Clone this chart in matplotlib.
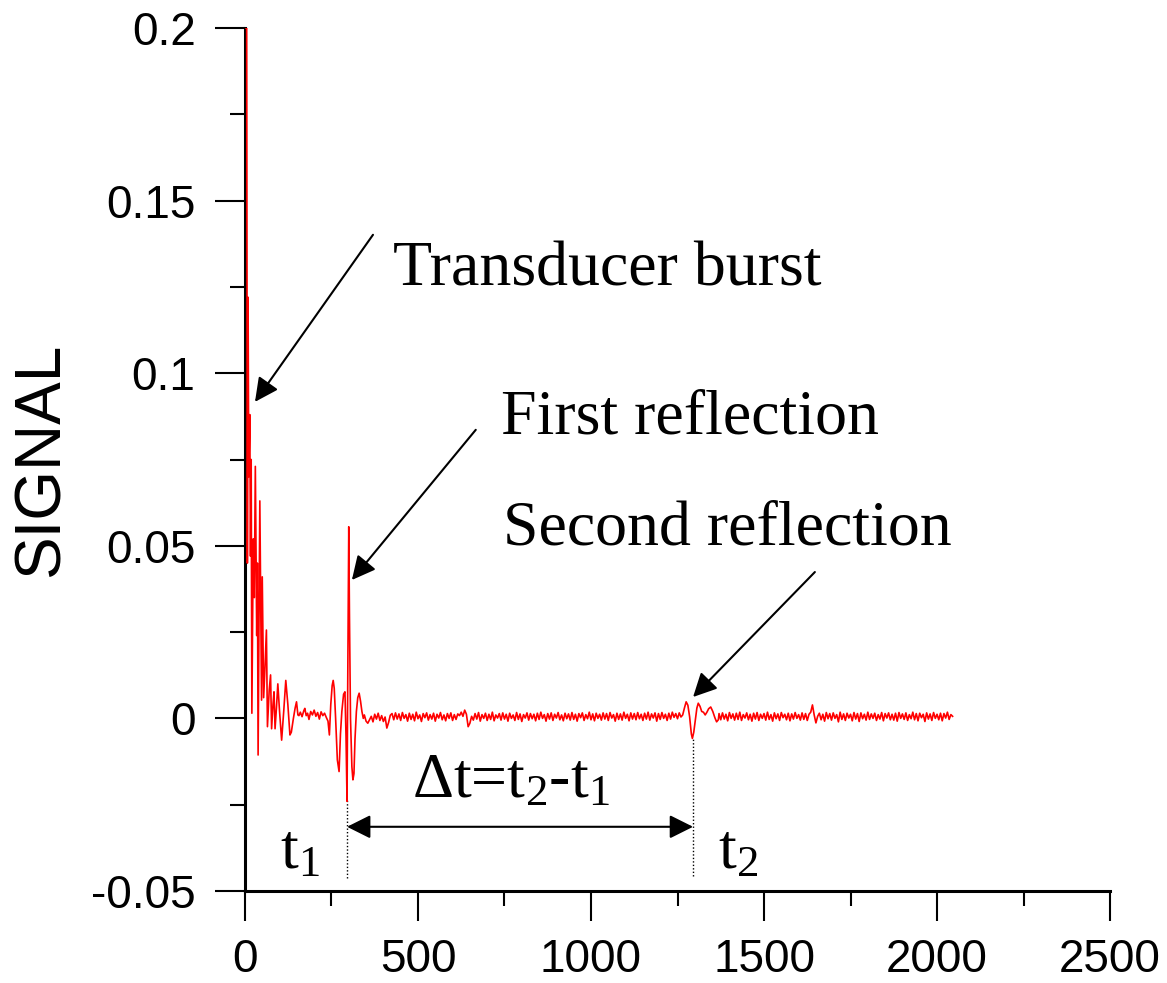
import numpy as np
import matplotlib
matplotlib.use("Agg")
import matplotlib.pyplot as plt
from matplotlib.ticker import MultipleLocator

## hand-read trace: burst + first reflection (sample, signal) ##
burst_t = [0, 3, 5, 7, 9, 11, 14, 16, 18, 20, 24, 27, 30, 34, 36, 38, 43, 48, 50, 54,
           58, 62, 65, 70, 74, 77, 81, 84, 87, 91, 95, 100, 106, 112, 118, 124, 130, 134,
           140, 145, 149, 153, 156, 160, 165, 170, 173, 177, 181, 185, 190, 195, 200, 205,
           210, 215, 220, 225, 230, 235, 240, 244, 248, 252, 255, 258, 262, 267, 272, 276,
           280, 285, 289, 292, 295, 297, 300, 302, 305, 309, 312, 315, 318, 322, 326, 330,
           334, 338, 342]
burst_v = [0.200, 0.205, 0.200, 0.045, 0.122, 0.070, 0.088, 0.047, 0.075, 0.0015, 0.052,
           0.035, 0.073, 0.024, 0.045, -0.0106, 0.063, 0.0053, 0.041, 0.006, 0.015, 0.0256,
           -0.0024, 0.008, 0.0126, -0.003, 0.004, 0.0077, -0.003, 0.003, 0.010, 0.002,
           -0.0063, 0.002, 0.011, 0.004, -0.0048, -0.004, 0.0, 0.003, 0.0048, 0.001, 0.0008,
           0.0018, 0.0005, 0.0022, 0.0029, 0.0008, 0.0015, -0.0003, 0.0020, 0.0010, 0.0024,
           0.0006, 0.0017, -0.0002, 0.0019, 0.0008, 0.0015, 0.0003, -0.0008, -0.0048, 0.004,
           0.0095, 0.011, 0.0087, 0.0, -0.012, -0.0154, -0.0045, 0.002, 0.007, 0.0077, -0.005,
           -0.024, 0.010, 0.0555, 0.030, 0.0, -0.014, -0.0178, -0.016, -0.006, 0.002, 0.006,
           0.0073, 0.005, 0.002, 0.0]

## quiet stretch between reflections, every 5 samples from 345, units of 1e-4 ##
quiet1_v = [10, -8, -14, -4, 6, -10, 12, -2, 15, -6, 8, -9, 4, -28, -12, 9, 14, -4, 16, -2,
            13, -6, 17, 0, 11, -8, 15, -3, 12, -7, 18, -1, 10, -9, 14, 2, 16, -5, 11, -2,
            15, -8, 12, 1, 17, -4, 10, -7, 14, 0, 16, -6, 11, -3, 13, 8, 18, 6, 24, 12,
            -24, -14, 6, -5, 14, -2, 17, -8, 11, 0, 15, -6, 12, -3, 18, -7, 10, 1, 14, -5,
            16, -2, 12, -8, 15, 0, 10, -6, 17, -3, 13, -9, 11, 1, 16, -5, 14, -1, 12, -7,
            15, -3, 18, 0, 11, -8, 14, -2, 16, -6, 12, 1, 17, -4, 10, -7, 15, -1, 13, -5,
            17, -3, 12, -8, 14, 2, 16, -6, 11, -1, 18, -4, 13, -7, 15, 0, 12, -5, 16, -2,
            14, -6, 17, 1, 11, -8, 15, -3, 13, -5, 18, 0, 12, -7, 16, -2, 14, -4, 17, -1,
            12, -6, 15, -2, 18, -5, 13, 1, 16, -8, 14, -3, 17, 0, 12, -6, 15, -2, 18, 3,
            14, -1, 16, 4]

## second reflection (sample, 1e-4 units) ##
echo2_t = [1265, 1270, 1275, 1280, 1285, 1290, 1293, 1297, 1302, 1306, 1310, 1315, 1320,
           1325, 1330, 1335, 1340, 1346, 1352, 1358, 1363, 1368]
echo2_v = [10, 30, 48, 38, 5, -45, -58, -40, 0, 30, 44, 35, 20, 18, 10, 18, 28, 33, 20, 2,
           -10, -4]

## tail of the record, every 5 samples from 1370, units of 1e-4 ##
quiet2_v = [14, -4, 16, -2, 12, -7, 17, 0, 13, -5, 15, -3, 18, -6, 11, 1, 16, -4, 12, -8,
            15, -2, 17, -6, 12, 0, 14, -5, 18, -3, 11, -8, 16, -1, 13, -6, 17, 2, 12, -4,
            15, -7, 13, -2, 17, 0, 11, -5, 16, -3, 14, -6, 12, 18, 39, 10, -13, 6, 15, -4,
            12, -8, 17, -1, 14, -5, 16, 0, 11, -10, 18, -3, 13, -6, 15, 1, 12, -7, 17, -2,
            14, -9, 16, -1, 12, -5, 18, -3, 13, 0, 15, -6, 11, -2, 17, -7, 14, 1, 16, -4,
            12, -5, 15, -8, 17, 0, 13, -3, 16, -6, 11, -1, 18, -4, 14, -7, 15, 2, 12, -9,
            16, -2, 13, -6, 17, 0, 12, -4, 15, -7, 14, 1, 18, -3, 11, 6]

t1, t2 = 295, 1295
x_ticks = [0, 500, 1000, 1500, 2000, 2500]
y_ticks = [-0.05, 0, 0.05, 0.1, 0.15, 0.2]
y_labels = ["-0.05", "0", "0.05", "0.1", "0.15", "0.2"]

## stitch segments in sample order ##
samples = np.concatenate([burst_t,
                          345 + 5 * np.arange(len(quiet1_v)),
                          echo2_t,
                          1370 + 5 * np.arange(len(quiet2_v))])
signal = np.concatenate([burst_v,
                         np.array(quiet1_v) * 1e-4,
                         np.array(echo2_v) * 1e-4,
                         np.array(quiet2_v) * 1e-4])

plt.rcParams["font.family"] = ["Liberation Sans", "DejaVu Sans"]
plt.rcParams["mathtext.fontset"] = "custom"
plt.rcParams["mathtext.rm"] = "Liberation Serif"
plt.rcParams["mathtext.default"] = "regular"

fig = plt.figure(figsize=(11.67, 9.83), dpi=100)
ax = fig.add_axes([0.2099, 0.0936, 0.7413, 0.8779])

ax.plot(samples, signal, color="#ff0000", lw=1.2, zorder=3)

ax.set_xlim(0, 2500)
ax.set_ylim(-0.05, 0.2)
ax.set_xticks(x_ticks)
ax.set_yticks(y_ticks)
ax.set_yticklabels(y_labels)
ax.xaxis.set_minor_locator(MultipleLocator(250))
ax.yaxis.set_minor_locator(MultipleLocator(0.025))

for side in ["top", "right"]:
    ax.spines[side].set_visible(False)
for side in ["left", "bottom"]:
    ax.spines[side].set_linewidth(2.2)

ax.tick_params(which="major", direction="out", length=21.6, width=1.5, labelsize=33)
ax.tick_params(which="minor", direction="out", length=10.8, width=1.5)
ax.tick_params(axis="y", which="major", pad=14)
ax.tick_params(axis="x", which="major", pad=12)

ax.set_ylabel("SIGNAL", fontsize=46, labelpad=14)

serif = ["Liberation Serif", "DejaVu Serif"]
arrow_kw = dict(arrowstyle="-|>", mutation_scale=36, lw=1.5, color="black",
                shrinkA=0, shrinkB=0)

ax.annotate("", xy=(29, 0.0917), xytext=(370, 0.1401), arrowprops=arrow_kw)
ax.annotate("", xy=(309, 0.0401), xytext=(667, 0.0836), arrowprops=arrow_kw)
ax.annotate("", xy=(1295, 0.0062), xytext=(1647, 0.0424), arrowprops=arrow_kw)

ax.text(428, 0.1255, "Transducer burst", family=serif, fontsize=46, va="baseline")
ax.text(740, 0.0824, "First reflection", family=serif, fontsize=46, va="baseline")
ax.text(745, 0.0503, "Second reflection", family=serif, fontsize=46, va="baseline")

## time-of-flight markers ##
ax.plot([t1, t1], [-0.0463, -0.0236], color="black", lw=1, ls=(0, (1, 1.5)))
ax.plot([t2, t2], [-0.0456, -0.0056], color="black", lw=1, ls=(0, (1, 1.5)))
ax.annotate("", xy=(t1, -0.0314), xytext=(t2, -0.0314),
            arrowprops=dict(arrowstyle="<|-|>", mutation_scale=36, lw=1.5,
                            color="black", shrinkA=0, shrinkB=0))
ax.text(483, -0.0230, "Δt=t$_2$-t$_1$", family=serif, fontsize=46, va="baseline")
ax.text(102, -0.0434, "t$_1$", family=serif, fontsize=46, va="baseline")
ax.text(1367, -0.0434, "t$_2$", family=serif, fontsize=46, va="baseline")

fig.savefig("out.png", dpi=100)
